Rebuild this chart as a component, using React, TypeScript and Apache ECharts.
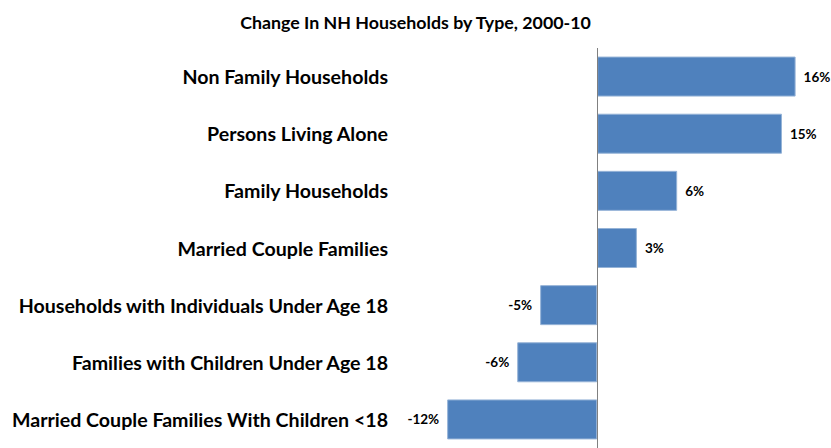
import React, { useEffect, useRef } from "react";
import * as echarts from "echarts";

const categories = [
  "Non Family Households",
  "Persons Living Alone",
  "Family Households",
  "Married Couple Families",
  "Households with Individuals Under Age 18",
  "Families with Children Under Age 18",
  "Married Couple Families With Children <18",
];

const changePct = [16.0, 14.9, 6.45, 3.2, -4.6, -6.45, -12.1];

const titleText = "Change In NH Households by Type, 2000-10";

export default function App() {
  const ref = useRef<HTMLDivElement>(null);
  useEffect(() => {
    if (!ref.current) return;
    const chart = echarts.init(ref.current, null, { renderer: "svg" });
    const font = "Lato";
    chart.setOption({
      animation: false,
      backgroundColor: "#ffffff",
      title: {
        text: titleText,
        left: "center",
        top: 8,
        textStyle: { fontFamily: font, fontWeight: "bold", fontSize: 17.8, color: "#000" },
      },
      grid: { left: 436, top: 48, height: 408, width: 372 },
      xAxis: {
        type: "value",
        min: -13,
        max: 17,
        show: false,
        splitLine: { show: false },
      },
      yAxis: {
        type: "category",
        data: categories,
        inverse: true,
        axisLine: { show: false, onZero: false },
        axisTick: { show: false },
        axisLabel: {
          margin: 48,
          color: "#000",
          fontFamily: font,
          fontWeight: "bold",
          fontSize: 19.6,
        },
      },
      series: [
        {
          type: "bar",
          data: changePct.map((v) => ({
            value: v,
            label: { position: v < 0 ? "left" : "right" },
          })),
          barWidth: 40,
          itemStyle: { color: "#4F81BD", borderColor: "#95B3D7", borderWidth: 1 },
          label: {
            show: true,
            formatter: (p: any) => Math.round(p.value) + "%",
            color: "#000",
            fontFamily: font,
            fontWeight: "bold",
            fontSize: 13.5,
            distance: 8,
          },
          markLine: {
            silent: true,
            symbol: "none",
            label: { show: false },
            lineStyle: { color: "#808080", width: 1, type: "solid" },
            data: [{ xAxis: 0 }],
          },
        },
      ],
    });
    return () => chart.dispose();
  }, []);
  return (
    <div
      ref={ref}
      style={{ position: "fixed", left: 0, top: 0, width: 831, height: 448 }}
    />
  );
}
